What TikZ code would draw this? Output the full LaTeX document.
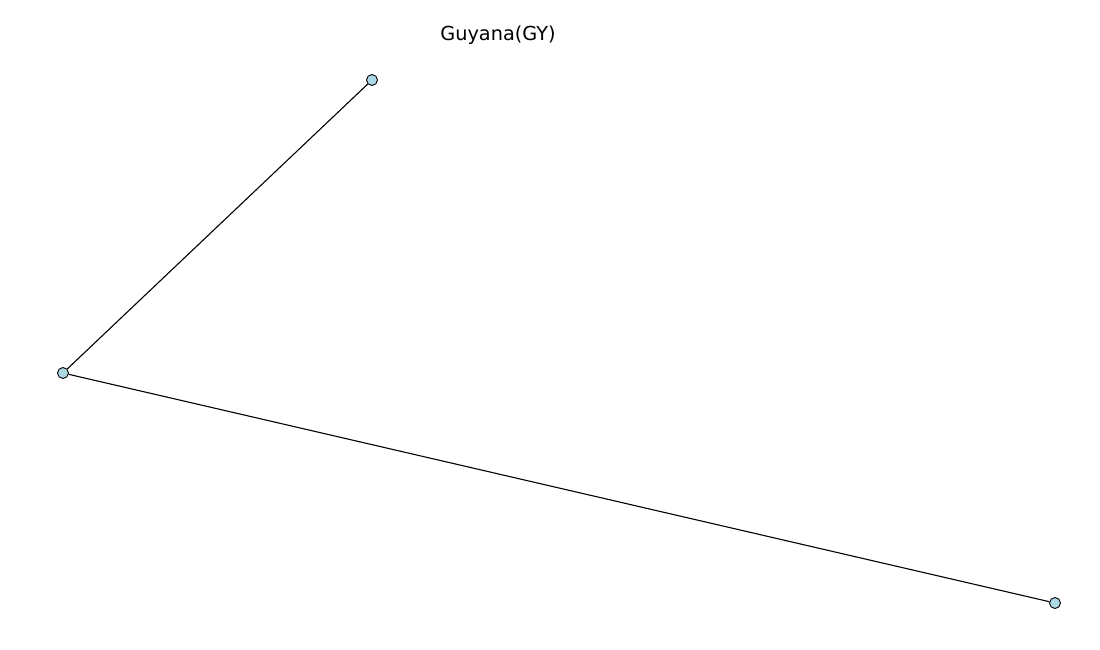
\documentclass[tikz,border=0pt]{standalone}
\usepackage{fontspec}
\setmainfont{DejaVu Sans}
\definecolor{nodeblue}{HTML}{ADD8E6}
\begin{document}
\begin{tikzpicture}[x=1pt,y=-1pt,
  vertex/.style={circle,draw=black,fill=nodeblue,line width=0.9pt,minimum size=11pt,inner sep=0pt},
  edge/.style={draw=black,line width=1.1pt}]
\useasboundingbox (0,0) rectangle (1100,650);
\node[font=\fontsize{19.3}{23}\selectfont] (title) at (498,35) {Guyana(GY)};
\node[vertex] (a) at (372,80) {};
\node[vertex] (b) at (63,373) {};
\node[vertex] (c) at (1055,603) {};
\draw[edge] (a) -- (b);
\draw[edge] (b) -- (c);
\end{tikzpicture}
\end{document}
